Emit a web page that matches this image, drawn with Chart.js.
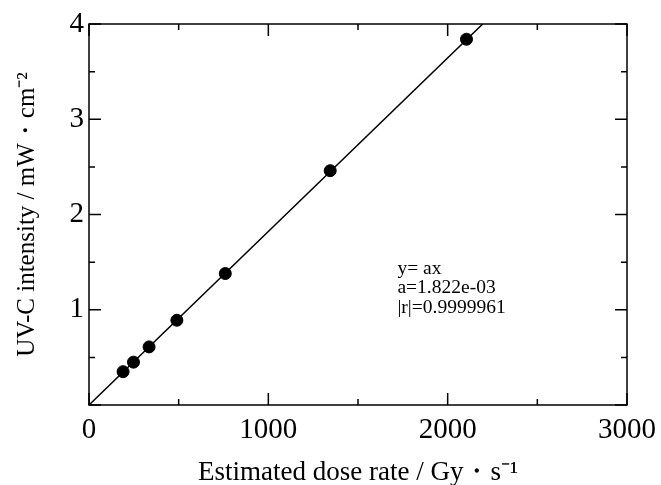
<!DOCTYPE html>
<html>
<head>
<meta charset="utf-8">
<script src="https://cdn.jsdelivr.net/npm/chart.js@4.4.1/dist/chart.umd.min.js"></script>
<style>
html, body { margin: 0; padding: 0; background: #fff; }
#wrap { width: 661px; height: 485px; }
</style>
</head>
<body>
<div id="wrap"><canvas id="doseChart" width="661" height="485"></canvas></div>
<script>
// data
const doseRate = [190, 248, 335, 490, 760, 1345, 2105];
const uvIntensity = [0.35, 0.45, 0.61, 0.89, 1.38, 2.46, 3.84];
const slopeA = 1.822e-3;
const fitLabels = ["y= ax", "a=1.822e-03", "|r|=0.9999961"];
const xRange = [0, 3000];
const yRange = [0, 4];

const serif = "'Liberation Serif', 'Times New Roman', serif";

// fit line y = a*x from the origin to the top of the axis
const fitLine = [
  { x: 0, y: 0 },
  { x: yRange[1] / slopeA, y: yRange[1] }
];

// frame, inward ticks (major + minor) and the fit text box
const framePlugin = {
  id: "frame",
  afterDraw(chart) {
    const { ctx, chartArea: a, scales } = chart;
    const xs = scales.x, ys = scales.y;
    ctx.save();
    ctx.strokeStyle = "#000";
    ctx.lineWidth = 1.5;
    ctx.strokeRect(a.left, a.top, a.right - a.left, a.bottom - a.top);

    ctx.beginPath();
    for (let v = xRange[0]; v <= xRange[1]; v += 500) {
      const px = xs.getPixelForValue(v);
      const len = v % 1000 === 0 ? 12 : 6;
      ctx.moveTo(px, a.bottom); ctx.lineTo(px, a.bottom - len);
      ctx.moveTo(px, a.top); ctx.lineTo(px, a.top + len);
    }
    for (let v = yRange[0]; v <= yRange[1]; v += 0.5) {
      const py = ys.getPixelForValue(v);
      const len = v % 1 === 0 ? 12 : 6;
      ctx.moveTo(a.left, py); ctx.lineTo(a.left + len, py);
      ctx.moveTo(a.right, py); ctx.lineTo(a.right - len, py);
    }
    ctx.stroke();

    ctx.fillStyle = "#000";
    ctx.font = "19.5px " + serif;
    ctx.textBaseline = "middle";
    ctx.textAlign = "left";
    const tx = xs.getPixelForValue(1720);
    const ty = ys.getPixelForValue(1.43);
    fitLabels.forEach((t, i) => {
      ctx.fillText(t, tx, ty + i * 19.5);
    });
    ctx.restore();
  }
};

new Chart(document.getElementById("doseChart"), {
  type: "scatter",
  data: {
    datasets: [
      {
        label: "fit",
        type: "line",
        data: fitLine,
        borderColor: "#000",
        borderWidth: 1.5,
        pointRadius: 0,
        fill: false
      },
      {
        label: "measured",
        data: doseRate.map((x, i) => ({ x: x, y: uvIntensity[i] })),
        backgroundColor: "#000",
        borderColor: "#000",
        pointRadius: 6,
        pointHoverRadius: 6
      }
    ]
  },
  options: {
    responsive: false,
    animation: false,
    layout: { padding: { top: 24, right: 34, left: 0, bottom: 0 } },
    plugins: {
      legend: { display: false },
      tooltip: { enabled: false }
    },
    scales: {
      x: {
        type: "linear",
        min: xRange[0],
        max: xRange[1],
        grid: { display: false, drawTicks: false },
        border: { display: false },
        ticks: {
          stepSize: 1000,
          color: "#000",
          padding: 8,
          maxRotation: 0,
          font: { family: serif, size: 29 },
          callback: (v) => String(v)
        },
        title: {
          display: true,
          text: "Estimated dose rate / Gy\u30fbs\u207b\u00b9",
          color: "#000",
          font: { family: serif, size: 27, lineHeight: 0.8 },
          padding: { top: 0, bottom: 1 }
        },
        afterFit(scale) {
          scale.height = 80;
          scale.paddingLeft = 0;
          scale.paddingRight = 0;
        }
      },
      y: {
        type: "linear",
        min: yRange[0],
        max: yRange[1],
        grid: { display: false, drawTicks: false },
        border: { display: false },
        ticks: {
          stepSize: 1,
          color: "#000",
          padding: 5,
          font: { family: serif, size: 29 },
          callback: (v) => (v === 0 ? "" : String(v))
        },
        title: {
          display: true,
          text: "UV-C intensity / mW\u30fbcm\u207b\u00b2",
          color: "#000",
          font: { family: serif, size: 25 },
          padding: { top: 12, bottom: 0 }
        },
        afterFit(scale) { scale.width = 89; }
      }
    }
  },
  plugins: [framePlugin]
});
</script>
</body>
</html>
